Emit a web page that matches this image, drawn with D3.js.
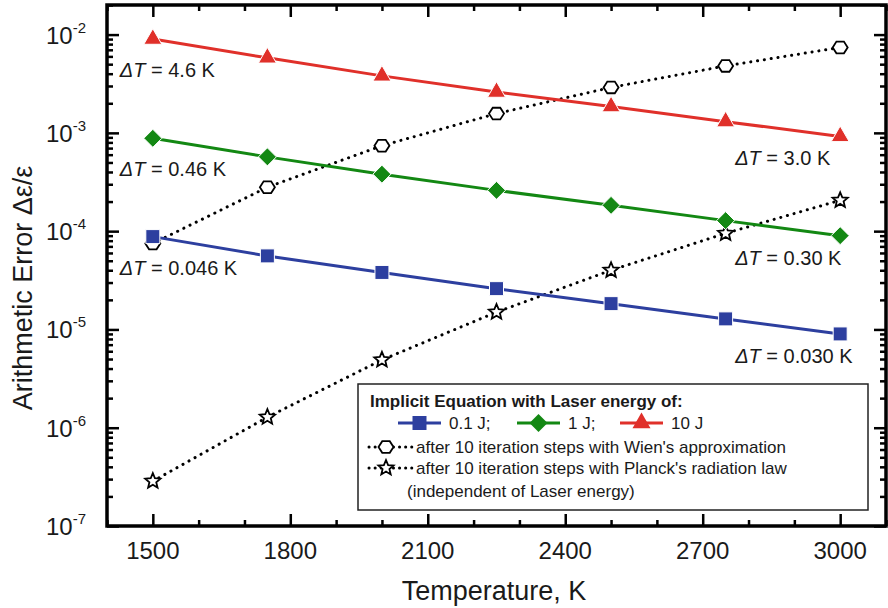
<!DOCTYPE html>
<html>
<head>
<meta charset="utf-8">
<script src="https://cdn.jsdelivr.net/npm/d3@7"></script>
<style>
  body { margin: 0; background: #fff; }
  svg { font-family: 'Liberation Sans', Arial, sans-serif; }
</style>
</head>
<body>
<svg id="chart" width="888" height="608"></svg>
<script>
// data
const temperatures = [1500, 1750, 2000, 2250, 2500, 2750, 3000]
const err01J = [8.8e-5, 5.6e-5, 3.8e-5, 2.6e-5, 1.83e-5, 1.28e-5, 9.0e-6]
const err1J = [8.8e-4, 5.7e-4, 3.8e-4, 2.6e-4, 1.83e-4, 1.28e-4, 9.0e-5]
const err10J = [9.0e-3, 5.8e-3, 3.8e-3, 2.6e-3, 1.85e-3, 1.3e-3, 9.2e-4]
const wienErr = [7.5e-5, 2.8e-4, 7.4e-4, 1.57e-3, 2.9e-3, 4.8e-3, 7.4e-3]
const planckErr = [2.86e-7, 1.28e-6, 4.9e-6, 1.5e-5, 4.0e-5, 9.5e-5, 2.06e-4]

const xMajorTicks = [1500, 1800, 2100, 2400, 2700, 3000]
const yDecades = [-7, -6, -5, -4, -3, -2]
const deltaTStart = ['4.6 K', '0.46 K', '0.046 K']
const deltaTEnd = ['3.0 K', '0.30 K', '0.030 K']

const blue = '#2d3f9f'
const green = '#138813'
const red = '#e0302a'

const width = 888
const height = 608
const margin = { top: 5, right: 2, bottom: 82, left: 107 }
const plotW = width - margin.left - margin.right
const plotH = height - margin.top - margin.bottom

const svg = d3.select('#chart')

const xScale = d3.scaleLinear().domain([1400, 3100]).range([margin.left, margin.left + plotW])
const yScale = d3.scaleLog().domain([1e-7, 2e-2]).range([margin.top + plotH, margin.top])

// marker shapes
function squarePath(s) {
  return `M${-s},${-s}H${s}V${s}H${-s}Z`
}
function diamondPath(s) {
  return `M0,${-s}L${s},0L0,${s}L${-s},0Z`
}
function trianglePath(s) {
  const h = s * Math.sqrt(3)
  return `M0,${-h * 2 / 3}L${s},${h / 3}L${-s},${h / 3}Z`
}
function hexagonPath(r) {
  const pts = d3.range(6).map((i) => {
    const a = (Math.PI / 3) * i
    return [r * Math.cos(a), r * 0.9 * Math.sin(a)]
  })
  return 'M' + pts.join('L') + 'Z'
}
function starPath(ro, ri) {
  const pts = d3.range(10).map((i) => {
    const a = -Math.PI / 2 + (Math.PI / 5) * i
    const r = i % 2 === 0 ? ro : ri
    return [r * Math.cos(a), r * Math.sin(a)]
  })
  return 'M' + pts.join('L') + 'Z'
}

const seriesList = [
  { name: 'planck', values: planckErr, color: '#000', dotted: true, shape: starPath(8, 3.6), fill: '#fff' },
  { name: 'wien', values: wienErr, color: '#000', dotted: true, shape: hexagonPath(7.5), fill: '#fff' },
  { name: '0.1 J', values: err01J, color: blue, dotted: false, shape: squarePath(7), fill: blue },
  { name: '1 J', values: err1J, color: green, dotted: false, shape: diamondPath(9), fill: green },
  { name: '10 J', values: err10J, color: red, dotted: false, shape: trianglePath(9), fill: red }
]

// axes with inward ticks
const xMinorTicks = d3.range(1400, 3101, 100).filter((t) => !xMajorTicks.includes(t))
const yMinorTicks = []
yDecades.forEach((e) => {
  for (let k = 2; k <= 9; k++) {
    const v = k * Math.pow(10, e)
    if (v <= 2e-2) yMinorTicks.push(v)
  }
})

const axes = svg.append('g').attr('class', 'axes')

function addAxis(axisFn, scale, values, size, transform) {
  const g = axes
    .append('g')
    .attr('transform', transform)
    .call(axisFn(scale).tickValues(values).tickSizeInner(-size).tickSizeOuter(0).tickFormat(''))
  g.select('.domain').remove()
  g.selectAll('line').attr('stroke', '#000').attr('stroke-width', 2.5)
}

const bottomY = margin.top + plotH
const rightX = margin.left + plotW
addAxis(d3.axisBottom, xScale, xMajorTicks, 12, `translate(0,${bottomY})`)
addAxis(d3.axisBottom, xScale, xMinorTicks, 6, `translate(0,${bottomY})`)
addAxis(d3.axisTop, xScale, xMajorTicks, 12, `translate(0,${margin.top})`)
addAxis(d3.axisTop, xScale, xMinorTicks, 6, `translate(0,${margin.top})`)
addAxis(d3.axisLeft, yScale, yDecades.map((e) => Math.pow(10, e)), 12, `translate(${margin.left},0)`)
addAxis(d3.axisLeft, yScale, yMinorTicks, 6, `translate(${margin.left},0)`)
addAxis(d3.axisRight, yScale, yDecades.map((e) => Math.pow(10, e)), 12, `translate(${rightX},0)`)
addAxis(d3.axisRight, yScale, yMinorTicks, 6, `translate(${rightX},0)`)

axes
  .append('rect')
  .attr('x', margin.left)
  .attr('y', margin.top)
  .attr('width', plotW)
  .attr('height', plotH)
  .attr('fill', 'none')
  .attr('stroke', '#000')
  .attr('stroke-width', 3.5)

// tick labels
axes
  .selectAll('.xlabel')
  .data(xMajorTicks)
  .enter()
  .append('text')
  .attr('class', 'xlabel')
  .attr('x', (d) => xScale(d))
  .attr('y', bottomY + 33)
  .attr('text-anchor', 'middle')
  .attr('font-size', 24)
  .attr('fill', '#1a1a1a')
  .text((d) => d)

const yLabels = axes
  .selectAll('.ylabel')
  .data(yDecades)
  .enter()
  .append('text')
  .attr('class', 'ylabel')
  .attr('x', margin.left - 21)
  .attr('y', (d) => yScale(Math.pow(10, d)) + 9)
  .attr('text-anchor', 'end')
  .attr('font-size', 24)
  .attr('fill', '#1a1a1a')
yLabels.append('tspan').text('10')
yLabels
  .append('tspan')
  .attr('dy', -11)
  .attr('font-size', 15)
  .text((d) => d)

// axis titles
svg
  .append('text')
  .attr('x', 494)
  .attr('y', 600)
  .attr('text-anchor', 'middle')
  .attr('font-size', 27)
  .attr('fill', '#1a1a1a')
  .text('Temperature, K')

svg
  .append('text')
  .attr('transform', 'translate(32,288) rotate(-90)')
  .attr('text-anchor', 'middle')
  .attr('font-size', 27)
  .attr('fill', '#1a1a1a')
  .text('Arithmetic Error Δε/ε')

// series
const line = d3
  .line()
  .x((d, i) => xScale(temperatures[i]))
  .y((d) => yScale(d))

const plot = svg.append('g').attr('class', 'series')

seriesList.forEach((s) => {
  const g = plot.append('g')
  g.append('path')
    .datum(s.values)
    .attr('d', line)
    .attr('fill', 'none')
    .attr('stroke', s.color)
    .attr('stroke-width', 3)
    .attr('stroke-linecap', 'round')
    .attr('stroke-dasharray', s.dotted ? '0.1 6.8' : null)

  g.selectAll('.marker')
    .data(s.values)
    .enter()
    .append('path')
    .attr('class', 'marker')
    .attr('transform', (d, i) => `translate(${xScale(temperatures[i])},${yScale(d)})`)
    .attr('d', s.shape)
    .attr('fill', s.fill)
    .attr('stroke', s.dotted ? '#000' : '#fff')
    .attr('stroke-width', s.dotted ? 1.8 : 1)
})

// delta T annotations
const annotSeries = [err10J, err1J, err01J]

function addDeltaT(text, xPos, yPos) {
  const t = svg
    .append('text')
    .attr('x', xPos)
    .attr('y', yPos)
    .attr('font-size', 20)
    .attr('fill', '#1a1a1a')
  t.append('tspan').attr('font-style', 'italic').text('ΔT')
  t.append('tspan').text(' = ' + text)
}

annotSeries.forEach((vals, i) => {
  addDeltaT(deltaTStart[i], xScale(temperatures[0]) - 33, yScale(vals[0]) + 38)
  addDeltaT(deltaTEnd[i], xScale(temperatures[temperatures.length - 1]) - 105, yScale(vals[vals.length - 1]) + 29)
})

// legend
const legend = svg.append('g').attr('class', 'legend')
legend
  .append('rect')
  .attr('x', 358)
  .attr('y', 384)
  .attr('width', 510)
  .attr('height', 126)
  .attr('fill', '#fff')
  .attr('stroke', '#222')
  .attr('stroke-width', 1.5)

legend
  .append('text')
  .attr('x', 370)
  .attr('y', 407)
  .attr('font-size', 17)
  .attr('font-weight', 'bold')
  .attr('fill', '#1a1a1a')
  .text('Implicit Equation with Laser energy of:')

const energyItems = [
  { s: seriesList[2], x: 398, label: '0.1 J;' },
  { s: seriesList[3], x: 517, label: '1 J;' },
  { s: seriesList[4], x: 620, label: '10 J' }
]
energyItems.forEach((it) => {
  const cy = 423
  legend
    .append('line')
    .attr('x1', it.x)
    .attr('x2', it.x + 43)
    .attr('y1', cy)
    .attr('y2', cy)
    .attr('stroke', it.s.color)
    .attr('stroke-width', 3)
  legend
    .append('path')
    .attr('transform', `translate(${it.x + 21.5},${cy})`)
    .attr('d', it.s.shape)
    .attr('fill', it.s.fill)
  legend
    .append('text')
    .attr('x', it.x + 51)
    .attr('y', cy + 6)
    .attr('font-size', 17)
    .attr('fill', '#1a1a1a')
    .text(it.label)
})

const methodItems = [
  { s: seriesList[1], cy: 447, label: "after 10 iteration steps with Wien's approximation" },
  { s: seriesList[0], cy: 468, label: "after 10 iteration steps with Planck's radiation law" }
]
methodItems.forEach((it) => {
  legend
    .append('line')
    .attr('x1', 369)
    .attr('x2', 412)
    .attr('y1', it.cy)
    .attr('y2', it.cy)
    .attr('stroke', '#000')
    .attr('stroke-width', 3)
    .attr('stroke-linecap', 'round')
    .attr('stroke-dasharray', '0.1 6')
  legend
    .append('path')
    .attr('transform', `translate(386,${it.cy})`)
    .attr('d', it.s.shape)
    .attr('fill', '#fff')
    .attr('stroke', '#000')
    .attr('stroke-width', 1.8)
  legend
    .append('text')
    .attr('x', 416)
    .attr('y', it.cy + 6)
    .attr('font-size', 17)
    .attr('fill', '#1a1a1a')
    .text(it.label)
})

legend
  .append('text')
  .attr('x', 407)
  .attr('y', 497)
  .attr('font-size', 17)
  .attr('fill', '#1a1a1a')
  .text('(independent of Laser energy)')
</script>
</body>
</html>
